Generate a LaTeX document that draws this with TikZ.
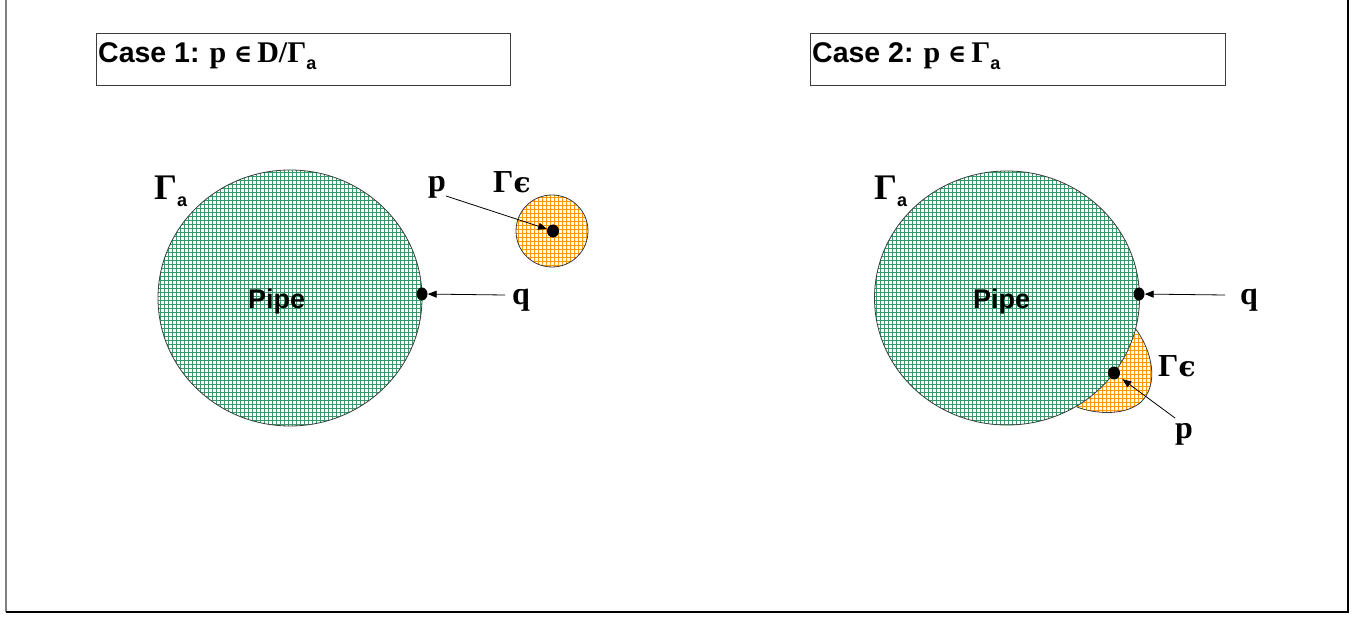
\documentclass[tikz,border=0pt]{standalone}
\usepackage{fontspec}
\setmainfont{Liberation Serif}
\newfontfamily\arial{Liberation Sans}
\newfontfamily\dvs{DejaVu Serif}
\usetikzlibrary{arrows.meta,shapes.geometric}
\definecolor{gridgreen}{RGB}{60,150,105}
\definecolor{gridorange}{RGB}{255,153,0}
\definecolor{edgegray}{RGB}{60,60,60}
\newcommand{\subA}[2]{\raisebox{#1}{\fontsize{#2}{#2}\selectfont\arial\bfseries a}}
\newcommand{\eps}{{\dvs\fontsize{28}{28}\selectfont\bfseries ϵ}}
\begin{document}
\begin{tikzpicture}[x=1pt,y=-1pt,
  lbl/.style={inner sep=0pt, anchor=base west, font=\fontsize{32}{32}\selectfont\bfseries},
  ttl/.style={inner sep=0pt, anchor=base west, font=\fontsize{30}{30}\selectfont\bfseries},
  pipe/.style={inner sep=0pt, anchor=base west, font=\fontsize{27}{27}\selectfont\arial\bfseries},
  titlebox/.style={draw=edgegray, line width=0.9pt},
  outline/.style={draw=edgegray, line width=0.8pt},
  dot/.style={ellipse, fill=black, inner sep=0pt, minimum width=#1, minimum height=13pt},
  arr/.style={draw=black, line width=0.8pt, -{Triangle[length=9pt,width=7pt]}},
  ggrid/.style={draw=gridgreen, line width=1.2pt},
  ogrid/.style={draw=gridorange, line width=1.2pt}
]
\useasboundingbox (0,0) rectangle (1368,617);
% frame
\draw[gray, line width=1.4pt] (6,-2) -- (6,612);
\draw[black, line width=1.4pt] (6,612) -- (1348,612) -- (1348,-2);

% title boxes
\draw[titlebox] (96,33) rectangle (510,85);
\draw[titlebox] (810,33) rectangle (1225,85);
\node[ttl] (t1) at (98,63) {{\arial\fontsize{28.5}{28.5}\selectfont Case 1:} p {\dvs\fontsize{25}{25}\selectfont ∈}\,D/Γ\subA{-7pt}{18}};
\node[ttl] (t2) at (812,63) {{\arial\fontsize{28.5}{28.5}\selectfont Case 2:} p {\dvs\fontsize{25}{25}\selectfont ∈}\,Γ\subA{-7pt}{18}};

% ===== Case 1 =====
\fill[white] (290,298) ellipse (132 and 128);
\begin{scope}
  \clip (290,298) ellipse (132 and 128);
  \foreach \i in {0,...,70} {
    \draw[ggrid] (156.5+\i*4,160) -- ++(0,280);
    \draw[ggrid] (150,168.5+\i*4) -- ++(290,0);
  }
\end{scope}
\draw[outline] (290,298) ellipse (132 and 128);

\fill[white] (552,231) circle (36);
\begin{scope}
  \clip (552,231) circle (36);
  \foreach \i in {0,...,20} {
    \draw[ogrid] (514.5+\i*4,190) -- ++(0,80);
    \draw[ogrid] (510,193.5+\i*4) -- ++(90,0);
  }
\end{scope}
\draw[outline] (552,231) circle (36);

\node[pipe] (pipe1) at (248,309) {Pipe};
\node[lbl, font=\fontsize{36}{36}\selectfont\bfseries] (ga1) at (154,200) {Γ\subA{-7pt}{18}};
\node[lbl] (p1) at (428,192) {p};
\node[lbl] (ge1) at (493,193) {Γ\eps};
\node[lbl] (q1) at (512,305) {q};

\node[dot=11pt] (dq1) at (422,294) {};
\node[dot=12pt] (dp1) at (553,231) {};
\coordinate (q1tail) at (505,295);
\coordinate (p1tail) at (446,196);
\draw[arr] (q1tail) -- (dq1);
\draw[arr] (p1tail) -- (dp1);

% ===== Case 2 =====
\fill[white] (1128,318) -- (1135,328) .. controls (1152,350) and (1160,385) .. (1140,403)
  .. controls (1122,417) and (1092,413) .. (1077,407) -- (1090,370) -- cycle;
\begin{scope}
  \clip (1128,318) -- (1135,328) .. controls (1152,350) and (1160,385) .. (1140,403)
  .. controls (1122,417) and (1092,413) .. (1077,407) -- (1090,370) -- cycle;
  \foreach \i in {0,...,27} {
    \draw[ogrid] (1070.5+\i*4,310) -- ++(0,110);
    \draw[ogrid] (1065,314.5+\i*4) -- ++(100,0);
  }
\end{scope}
\draw[outline] (1135,328) .. controls (1152,350) and (1160,385) .. (1140,403)
  .. controls (1122,417) and (1092,413) .. (1077,407);

\fill[white] (1007,298) ellipse (132.5 and 127);
\begin{scope}
  \clip (1007,298) ellipse (132.5 and 127);
  \foreach \i in {0,...,72} {
    \draw[ggrid] (872.5+\i*4,160) -- ++(0,280);
    \draw[ggrid] (866,168.5+\i*4) -- ++(290,0);
  }
\end{scope}
\draw[outline] (1007,298) ellipse (132.5 and 127);

\node[pipe] (pipe2) at (973,309) {Pipe};
\node[lbl, font=\fontsize{36}{36}\selectfont\bfseries] (ga2) at (874,200) {Γ\subA{-7pt}{18}};
\node[lbl] (ge2) at (1158,377) {Γ\eps};
\node[lbl] (p2) at (1175,438) {p};
\node[lbl] (q2) at (1240,305) {q};

\node[dot=11pt] (dq2) at (1139,294) {};
\node[dot=12pt] (dp2) at (1114,373) {};
\coordinate (q2tail) at (1225,295);
\coordinate (p2tail) at (1175,418);
\draw[arr] (q2tail) -- (dq2);
\draw[arr, shorten >=4pt] (p2tail) -- (dp2);
\end{tikzpicture}
\end{document}
